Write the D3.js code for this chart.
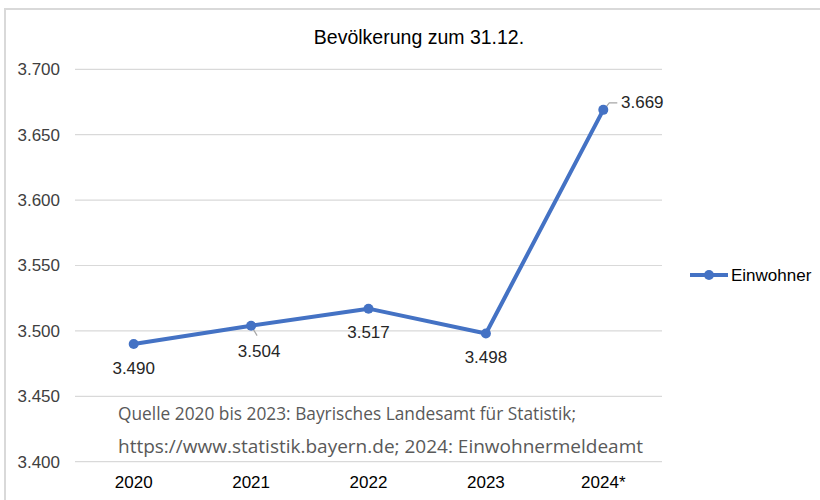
<!DOCTYPE html>
<html>
<head>
<meta charset="utf-8">
<script src="https://cdn.jsdelivr.net/npm/d3@7"></script>
<style>
  body { margin: 0; background: #fff; }
  svg { display: block; }
</style>
</head>
<body>
<div id="chart"></div>
<script>
// Bevoelkerung line chart

var years = ["2020", "2021", "2022", "2023", "2024*"];
var einwohner = [3490, 3504, 3517, 3498, 3669];
var yTicks = [3400, 3450, 3500, 3550, 3600, 3650, 3700];
// label offsets per point (dx, dy) relative to the marker
var labelPos = [[0, 30], [8, 31], [0, 29], [0, 29], [39, -2]];

var W = 820, H = 500;
var margin = {top: 69, left: 75, right: 158, bottom: 38};
var font = "Liberation Sans, Arial, sans-serif";

var svg = d3.select("#chart").append("svg")
    .attr("width", W).attr("height", H);

// outer frame (only top and left edges visible)
svg.append("path")
  .attr("d", "M5,500 L5,9 L820,9")
  .attr("fill", "none").attr("stroke", "#d9d9d9").attr("stroke-width", 2);

var x = d3.scaleBand().domain(years)
    .range([margin.left, W - margin.right]);
var y = d3.scaleLinear().domain([3400, 3700])
    .range([461.7, 69.3]);

// gridlines
svg.append("g").selectAll("line")
  .data(yTicks).enter().append("line")
  .attr("x1", margin.left).attr("x2", W - margin.right)
  .attr("y1", function (d) { return y(d); })
  .attr("y2", function (d) { return y(d); })
  .attr("stroke", "#d9d9d9").attr("stroke-width", 1.2);

// y axis labels
var yAxis = d3.axisLeft(y).tickValues(yTicks).tickSize(0).tickPadding(15)
    .tickFormat(function (d) { return (d / 1000).toFixed(3); });
var gy = svg.append("g").attr("transform", "translate(" + margin.left + ",0)").call(yAxis);
gy.select(".domain").remove();
gy.selectAll("text").attr("font-family", font)
  .attr("font-size", 17).attr("fill", "#404040");

// x axis labels
var xAxis = d3.axisBottom(x).tickSize(0).tickPadding(0);
var gx = svg.append("g").attr("transform", "translate(0,476)").call(xAxis);
gx.select(".domain").remove();
gx.selectAll("text").attr("font-family", font)
  .attr("font-size", 17).attr("fill", "#000");

// source note
var note = svg.append("g").attr("font-family", "Open Sans, Noto Sans, sans-serif")
  .attr("font-size", 18).attr("fill", "#595959");
note.append("text").attr("x", 118).attr("y", 420)
  .attr("textLength", 458).attr("lengthAdjust", "spacingAndGlyphs")
  .text("Quelle 2020 bis 2023: Bayrisches Landesamt für Statistik;");
note.append("text").attr("x", 118).attr("y", 453)
  .attr("textLength", 525).attr("lengthAdjust", "spacingAndGlyphs")
  .text("https://www.statistik.bayern.de; 2024: Einwohnermeldeamt");

// title
svg.append("text").attr("x", 419).attr("y", 44)
  .attr("text-anchor", "middle")
  .attr("font-family", font)
  .attr("font-size", 19.5).attr("fill", "#000")
  .text("Bevölkerung zum 31.12.");

var cx = function (d, i) { return x(years[i]) + x.bandwidth() / 2; };
var cy = function (d) { return y(d); };

// leader lines for 2021 and 2024
svg.append("path")
  .attr("d", "M" + cx(0, 1) + "," + cy(einwohner[1]) + " l6,10")
  .attr("stroke", "#a6a6a6").attr("stroke-width", 1.2).attr("fill", "none");
svg.append("path")
  .attr("d", "M" + (cx(0, 4) + 2) + "," + (cy(einwohner[4]) - 2) + " l4,-5 l8,0")
  .attr("stroke", "#a6a6a6").attr("stroke-width", 1.2).attr("fill", "none");

// line
var line = d3.line().x(cx).y(cy);
svg.append("path").datum(einwohner)
  .attr("d", line)
  .attr("fill", "none").attr("stroke", "#4472c4")
  .attr("stroke-width", 4).attr("stroke-linejoin", "round");

svg.append("g").selectAll("circle")
  .data(einwohner).enter().append("circle")
  .attr("cx", cx).attr("cy", cy).attr("r", 5)
  .attr("fill", "#4472c4");

// data labels
svg.append("g").selectAll("text")
  .data(einwohner).enter().append("text")
  .attr("x", function (d, i) { return cx(d, i) + labelPos[i][0]; })
  .attr("y", function (d, i) { return cy(d) + labelPos[i][1]; })
  .attr("text-anchor", "middle")
  .attr("font-family", font)
  .attr("font-size", 17).attr("fill", "#262626")
  .text(function (d) { return (d / 1000).toFixed(3); });

// legend
var lg = svg.append("g").attr("transform", "translate(690,275)");
lg.append("line").attr("x1", 0).attr("x2", 38).attr("y1", 0).attr("y2", 0)
  .attr("stroke", "#4472c4").attr("stroke-width", 4);
lg.append("circle").attr("cx", 19).attr("cy", 0).attr("r", 5).attr("fill", "#4472c4");
lg.append("text").attr("x", 41).attr("y", 6)
  .attr("font-family", font)
  .attr("font-size", 17).attr("fill", "#000")
  .text("Einwohner");
</script>
</body>
</html>
